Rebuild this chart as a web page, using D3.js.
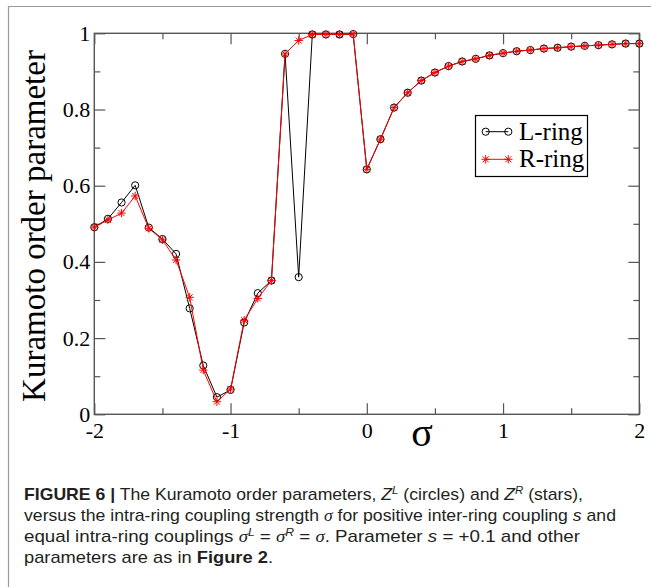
<!DOCTYPE html>
<html>
<head>
<meta charset="utf-8">
<script src="https://cdnjs.cloudflare.com/ajax/libs/d3/7.8.5/d3.min.js"></script>
<style>
  body { margin: 0; background: #fff; }
  svg { display: block; }
</style>
</head>
<body>
<div id="container"></div>
<script>
// sigma values on the x axis
var sigma = [-2.0, -1.9, -1.8, -1.7, -1.6, -1.5, -1.4, -1.3, -1.2, -1.1, -1.0,
             -0.9, -0.8, -0.7, -0.6, -0.5, -0.4, -0.3, -0.2, -0.1, 0.0,
             0.1, 0.2, 0.3, 0.4, 0.5, 0.6, 0.7, 0.8, 0.9, 1.0,
             1.1, 1.2, 1.3, 1.4, 1.5, 1.6, 1.7, 1.8, 1.9, 2.0];
// L-ring order parameter (circles)
var zL = [0.491, 0.513, 0.556, 0.601, 0.490, 0.460, 0.421, 0.278, 0.128, 0.045, 0.064,
          0.241, 0.318, 0.351, 0.946, 0.360, 0.997, 0.997, 0.997, 0.998, 0.643,
          0.722, 0.805, 0.844, 0.876, 0.897, 0.914, 0.926, 0.933, 0.942, 0.948,
          0.953, 0.956, 0.960, 0.962, 0.965, 0.967, 0.969, 0.971, 0.973, 0.973];
// R-ring order parameter (stars)
var zR = [0.491, 0.510, 0.528, 0.573, 0.488, 0.458, 0.405, 0.307, 0.116, 0.033, 0.066,
          0.247, 0.304, 0.351, 0.946, 0.981, 0.997, 0.997, 0.997, 0.998, 0.643,
          0.722, 0.805, 0.844, 0.876, 0.897, 0.914, 0.926, 0.933, 0.942, 0.948,
          0.953, 0.956, 0.960, 0.962, 0.965, 0.967, 0.969, 0.971, 0.973, 0.973];
// ticks
var xMajor = [-2, -1, 0, 1, 2];
var xMinor = [-1.5, -0.5, 0.5, 1.5];
var yMajor = [0, 0.2, 0.4, 0.6, 0.8, 1];
var yMinor = [0.1, 0.3, 0.5, 0.7, 0.9];
var yLabels = ["0", "0.2", "0.4", "0.6", "0.8", "1"];

var width = 651, height = 587;
var svg = d3.select("#container").append("svg")
  .attr("width", width).attr("height", height);

// outer frame of the figure (only top and left are visible)
svg.append("path")
  .attr("d", "M8.5,587V6.5H651")
  .attr("fill", "none").attr("stroke", "#9a9a9a").attr("stroke-width", 1.2);

var x = d3.scaleLinear().domain([-2, 2]).range([94.3, 639.3]);
var y = d3.scaleLinear().domain([0, 1]).range([414.3, 33.3]);

var axisColor = "#555";
var serif = "'Liberation Serif', 'DejaVu Serif', serif";

// helper to draw one tick-only axis
function tickAxis(axis, tr) {
  var g = svg.append("g").attr("transform", tr).call(axis);
  g.select(".domain").remove();
  g.selectAll("line").attr("stroke", axisColor).attr("stroke-width", 1.2);
  return g;
}

// major + minor ticks, pointing inward on all four sides
tickAxis(d3.axisBottom(x).tickValues(xMajor).tickSizeInner(-11).tickSizeOuter(0).tickPadding(8)
  .tickFormat(function (d) { return String(d); }), "translate(0," + y(0) + ")")
  .selectAll("text").attr("font-family", serif).attr("font-size", 22).attr("fill", "#000");
tickAxis(d3.axisBottom(x).tickValues(xMinor).tickSizeInner(-6).tickSizeOuter(0).tickFormat(""),
  "translate(0," + y(0) + ")");
tickAxis(d3.axisTop(x).tickValues(xMajor).tickSizeInner(-11).tickSizeOuter(0).tickFormat(""),
  "translate(0," + y(1) + ")");
tickAxis(d3.axisTop(x).tickValues(xMinor).tickSizeInner(-6).tickSizeOuter(0).tickFormat(""),
  "translate(0," + y(1) + ")");
tickAxis(d3.axisLeft(y).tickValues(yMajor).tickSizeInner(-11).tickSizeOuter(0).tickPadding(4)
  .tickFormat(function (d, i) { return yLabels[i]; }), "translate(" + x(-2) + ",0)")
  .selectAll("text").attr("font-family", serif).attr("font-size", 22).attr("fill", "#000");
tickAxis(d3.axisLeft(y).tickValues(yMinor).tickSizeInner(-6).tickSizeOuter(0).tickFormat(""),
  "translate(" + x(-2) + ",0)");
tickAxis(d3.axisRight(y).tickValues(yMajor).tickSizeInner(-11).tickSizeOuter(0).tickFormat(""),
  "translate(" + x(2) + ",0)");
tickAxis(d3.axisRight(y).tickValues(yMinor).tickSizeInner(-6).tickSizeOuter(0).tickFormat(""),
  "translate(" + x(2) + ",0)");

// plot frame
svg.append("rect")
  .attr("x", x(-2)).attr("y", y(1))
  .attr("width", x(2) - x(-2)).attr("height", y(0) - y(1))
  .attr("fill", "none").attr("stroke", axisColor).attr("stroke-width", 1.4);

// axis titles
svg.append("text")
  .attr("transform", "translate(45," + 226 + ") rotate(-90)")
  .attr("text-anchor", "middle")
  .attr("font-family", serif).attr("font-size", 33)
  .text("Kuramoto order parameter");
svg.append("text")
  .attr("x", 422).attr("y", 446)
  .attr("text-anchor", "middle")
  .attr("font-family", serif).attr("font-size", 40)
  .text("σ");

var line = d3.line().x(function (d) { return x(d[0]); }).y(function (d) { return y(d[1]); });
var dataL = sigma.map(function (s, i) { return [s, zL[i]]; });
var dataR = sigma.map(function (s, i) { return [s, zR[i]]; });

// star marker path (asterisk with 4 strokes)
function starPath(cx, cy, r) {
  var d = "", k = r * 0.7071;
  d += "M" + (cx - r) + "," + cy + "H" + (cx + r);
  d += "M" + cx + "," + (cy - r) + "V" + (cy + r);
  d += "M" + (cx - k) + "," + (cy - k) + "L" + (cx + k) + "," + (cy + k);
  d += "M" + (cx - k) + "," + (cy + k) + "L" + (cx + k) + "," + (cy - k);
  return d;
}

// L-ring
svg.append("path").datum(dataL).attr("d", line)
  .attr("fill", "none").attr("stroke", "#000").attr("stroke-width", 1);
svg.append("g").selectAll("circle").data(dataL).join("circle")
  .attr("cx", function (d) { return x(d[0]); })
  .attr("cy", function (d) { return y(d[1]); })
  .attr("r", 3.6)
  .attr("fill", "none").attr("stroke", "#000").attr("stroke-width", 1);

// R-ring
svg.append("path").datum(dataR).attr("d", line)
  .attr("fill", "none").attr("stroke", "#ff0000").attr("stroke-width", 1);
svg.append("g").selectAll("path").data(dataR).join("path")
  .attr("d", function (d) { return starPath(x(d[0]), y(d[1]), 4.2); })
  .attr("fill", "none").attr("stroke", "#ff0000").attr("stroke-width", 1);

// legend
var legend = svg.append("g");
legend.append("rect").attr("x", 475.5).attr("y", 115.5).attr("width", 112).attr("height", 61)
  .attr("fill", "#fff").attr("stroke", "#000").attr("stroke-width", 1.2);
legend.append("line").attr("x1", 485.7).attr("x2", 508.3).attr("y1", 131.7).attr("y2", 131.7)
  .attr("stroke", "#000");
legend.selectAll("circle").data([485.7, 508.3]).join("circle")
  .attr("cx", function (d) { return d; }).attr("cy", 131.7).attr("r", 3.6)
  .attr("fill", "none").attr("stroke", "#000");
legend.append("line").attr("x1", 485.7).attr("x2", 508.3).attr("y1", 159.3).attr("y2", 159.3)
  .attr("stroke", "#ff0000");
legend.selectAll("path.star").data([485.7, 508.3]).join("path").attr("class", "star")
  .attr("d", function (d) { return starPath(d, 159.3, 4.2); })
  .attr("fill", "none").attr("stroke", "#ff0000");
legend.append("text").attr("x", 519).attr("y", 140)
  .attr("font-family", serif).attr("font-size", 25).text("L-ring");
legend.append("text").attr("x", 519).attr("y", 167)
  .attr("font-family", serif).attr("font-size", 25).text("R-ring");

// caption
var sans = "'Liberation Sans', Arial, sans-serif";
var cap = svg.append("g").attr("font-family", sans).attr("font-size", 17).attr("fill", "#231f20");
function addLine(yy, len, parts) {
  var t = cap.append("text").attr("x", 24).attr("y", yy)
    .attr("textLength", len).attr("lengthAdjust", "spacingAndGlyphs");
  parts.forEach(function (p) {
    var s = t.append("tspan").text(p.t);
    if (p.b) s.attr("font-weight", "bold");
    if (p.i) s.attr("font-style", "italic");
    if (p.serif) s.attr("font-family", serif);
    if (p.sup) s.attr("font-size", 11).attr("dy", -6);
    if (p.down) s.attr("dy", 6);
  });
}
addLine(500, 559, [
  { t: "FIGURE 6 |", b: true },
  { t: " The Kuramoto order parameters, " },
  { t: "Z", i: true },
  { t: "L", i: true, sup: true },
  { t: " (circles) and ", down: true },
  { t: "Z", i: true },
  { t: "R", i: true, sup: true },
  { t: " (stars),", down: true }
]);
addLine(521, 592, [
  { t: "versus the intra-ring coupling strength " },
  { t: "σ", i: true, serif: true },
  { t: " for positive inter-ring coupling " },
  { t: "s", i: true },
  { t: " and" }
]);
addLine(542, 556, [
  { t: "equal intra-ring couplings " },
  { t: "σ", i: true, serif: true },
  { t: "L", i: true, sup: true },
  { t: " = ", down: true },
  { t: "σ", i: true, serif: true },
  { t: "R", i: true, sup: true },
  { t: " = ", down: true },
  { t: "σ", i: true, serif: true },
  { t: ". Parameter " },
  { t: "s", i: true },
  { t: " = +0.1 and other" }
]);
addLine(563, 249, [
  { t: "parameters are as in " },
  { t: "Figure 2", b: true },
  { t: "." }
]);
</script>
</body>
</html>
